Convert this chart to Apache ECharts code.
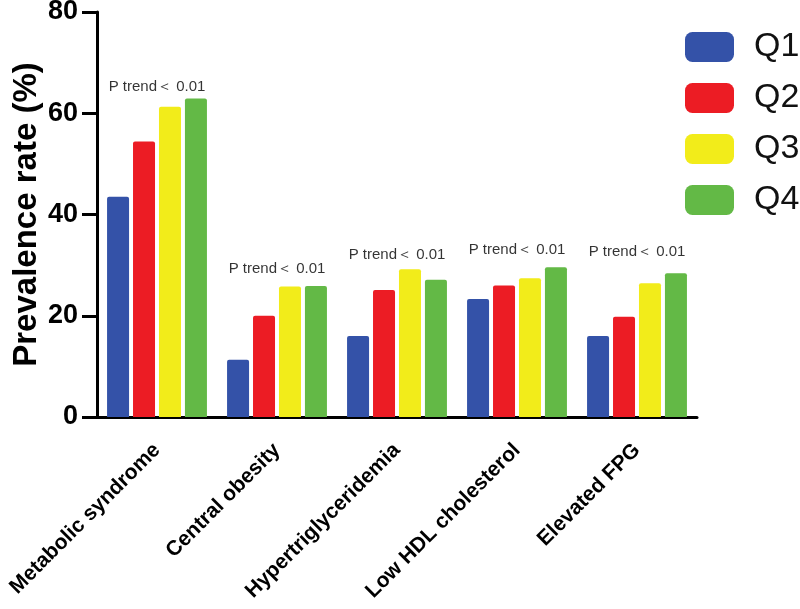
<!DOCTYPE html>
<html>
<head>
<meta charset="utf-8">
<script src="https://cdn.jsdelivr.net/npm/echarts@6/dist/echarts.min.js"></script>
<style>html,body{margin:0;padding:0;background:#fff}#c{width:800px;height:609px}</style>
</head>
<body>
<div id="c"></div>
<script>
var categories = ['Metabolic syndrome', 'Central obesity', 'Hypertriglyceridemia', 'Low HDL cholesterol', 'Elevated FPG'];
var seriesNames = ['Q1', 'Q2', 'Q3', 'Q4'];
var q1 = [43.5, 11.3, 16.0, 23.3, 16.0];
var q2 = [54.4, 20.0, 25.1, 26.0, 19.8];
var q3 = [61.3, 25.8, 29.2, 27.4, 26.4];
var q4 = [62.9, 25.9, 27.1, 29.6, 28.4];
var annotationText = 'P trend\uFF1C 0.01';
var annotationY = [65.2, 29.2, 32.1, 33.1, 32.7];
var yTicks = [0, 20, 40, 60, 80];

var colors = ['#3452a8', '#ec1c24', '#f2ec1a', '#63b946'];
var values = [q1, q2, q3, q4];
var FONT = 'Liberation Sans, Arial, Helvetica, sans-serif';

var barSeries = seriesNames.map(function (n, i) {
  return {
    name: n, type: 'bar', data: values[i], barWidth: 22, barGap: '18%',
    itemStyle: { color: colors[i], borderRadius: [2, 2, 0, 0] }
  };
});
barSeries.push({
  name: 'annot', type: 'scatter', data: annotationY, symbolSize: 0, silent: true,
  label: { show: true, position: 'inside', formatter: annotationText,
    fontFamily: FONT, fontSize: 15, color: '#000', letterSpacing: -0.8 }
});

var chart = echarts.init(document.getElementById('c'), null, { renderer: 'canvas' });
chart.setOption({
  animation: false,
  backgroundColor: '#fff',
  grid: { left: 97, right: 103, top: 12, bottom: 192, containLabel: false, outerBoundsMode: 'none' },
  legend: {
    data: seriesNames, orient: 'vertical', left: 680, top: 25,
    itemWidth: 49, itemHeight: 30, itemGap: 17, icon: 'roundRect',
    textStyle: { fontSize: 34, color: '#111', fontFamily: FONT, padding: [0, 0, 0, 15] }
  },
  xAxis: {
    type: 'category', data: categories,
    axisLine: { lineStyle: { color: '#000', width: 3 } },
    axisTick: { alignWithLabel: true, length: 12, lineStyle: { color: '#000', width: 3 } },
    axisLabel: { rotate: 45, margin: 30, interval: 0, fontSize: 21, fontWeight: 'bold', color: '#000',
      fontFamily: FONT }
  },
  yAxis: {
    type: 'value', min: yTicks[0], max: yTicks[yTicks.length - 1], interval: 20,
    name: 'Prevalence rate (%)', nameLocation: 'middle', nameGap: 54, nameMoveOverlap: false,
    nameTextStyle: { fontSize: 33, fontWeight: 'bold', color: '#000', fontFamily: FONT },
    axisLine: { show: true, lineStyle: { color: '#000', width: 3 } },
    axisTick: { show: true, length: 15, lineStyle: { color: '#000', width: 3 } },
    axisLabel: { margin: 19, fontSize: 27, fontWeight: 'bold', color: '#000', fontFamily: FONT },
    splitLine: { show: false }
  },
  series: barSeries
});
</script>
</body>
</html>
